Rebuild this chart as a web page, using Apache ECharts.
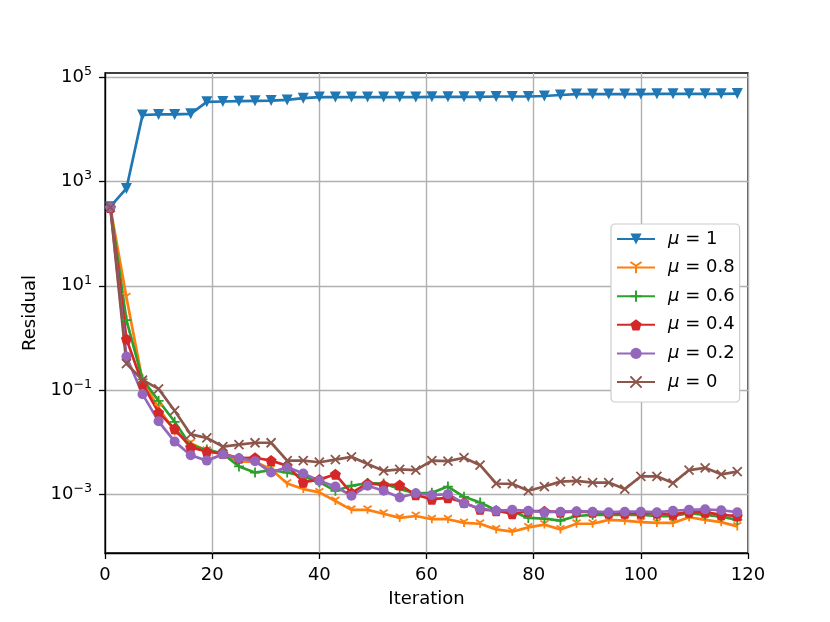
<!DOCTYPE html>
<html><head><meta charset="utf-8">
<script src="https://cdn.jsdelivr.net/npm/echarts@6/dist/echarts.min.js"></script>
<style>html,body{margin:0;padding:0;background:#fff}#c{width:830px;height:622px}</style>
</head><body><div id="c"></div>
<script>
const iterations = [1,4,7,10,13,16,19,22,25,28,31,34,37,40,43,46,49,52,55,58,61,64,67,70,73,76,79,82,85,88,91,94,97,100,103,106,109,112,115,118];
const seriesNames = ['μ = 1','μ = 0.8','μ = 0.6','μ = 0.4','μ = 0.2','μ = 0'];
const mu1 = [330,740,1.9e4,1.95e4,1.95e4,2.0e4,3.4e4,3.45e4,3.5e4,3.55e4,3.6e4,3.7e4,4.0e4,4.2e4,4.2e4,4.2e4,4.2e4,4.2e4,4.2e4,4.2e4,4.25e4,4.25e4,4.25e4,4.25e4,4.3e4,4.3e4,4.3e4,4.4e4,4.6e4,4.8e4,4.8e4,4.8e4,4.8e4,4.8e4,4.85e4,4.85e4,4.85e4,4.85e4,4.85e4,4.9e4];
const mu08 = [320,6.0,0.15,0.045,0.016,0.0095,0.0068,0.0058,0.0042,0.0042,0.003,0.0016,0.00125,0.00108,0.00074,0.0005,0.0005,0.00042,0.00035,0.00038,0.00033,0.00033,0.00028,0.00027,0.00021,0.00019,0.00023,0.00026,0.00021,0.00027,0.00027,0.00032,0.00031,0.00029,0.00028,0.00028,0.00036,0.00032,0.00029,0.00024];
const mu06 = [320,2.2,0.16,0.062,0.0245,0.0085,0.0072,0.006,0.0034,0.0026,0.0029,0.0026,0.0022,0.0017,0.00116,0.00145,0.00163,0.0016,0.00125,0.00104,0.00106,0.0014,0.00089,0.00069,0.00049,0.00047,0.00035,0.00034,0.00031,0.00038,0.0004,0.0004,0.0004,0.0004,0.00038,0.00038,0.00043,0.0004,0.00037,0.00032];
const mu04 = [320,0.95,0.13,0.037,0.018,0.0079,0.0066,0.006,0.0049,0.005,0.0044,0.0035,0.0017,0.0019,0.0024,0.00105,0.0016,0.0015,0.0015,0.00097,0.0008,0.00085,0.00069,0.00051,0.00048,0.00042,0.00047,0.00047,0.00045,0.00046,0.00045,0.00043,0.00043,0.00043,0.00043,0.00041,0.00045,0.00045,0.0004,0.00038];
const mu02 = [320,0.44,0.083,0.025,0.0102,0.0056,0.0044,0.0058,0.0049,0.0043,0.0026,0.0033,0.0025,0.0018,0.0014,0.00093,0.00145,0.00116,0.00086,0.00104,0.00096,0.001,0.00066,0.00053,0.00048,0.0005,0.00048,0.00045,0.00046,0.00047,0.00046,0.00045,0.00046,0.00046,0.00045,0.00048,0.0005,0.00051,0.00049,0.00045];
const mu0 = [320,0.32,0.155,0.105,0.04,0.014,0.012,0.0082,0.0089,0.0097,0.0097,0.0044,0.0044,0.0041,0.0046,0.0052,0.0038,0.0028,0.003,0.0029,0.0044,0.0043,0.005,0.0036,0.0016,0.00158,0.00116,0.0014,0.00174,0.0018,0.00167,0.00167,0.00125,0.0022,0.0022,0.00163,0.0029,0.0032,0.0024,0.0027];
const xTickValues = [0,20,40,60,80,100,120];
const yTickValues = [1e-3,1e-1,1e1,1e3,1e5];

const allValues = [mu1, mu08, mu06, mu04, mu02, mu0];
const colors = ['#1f77b4','#ff7f0e','#2ca02c','#d62728','#9467bd','#8c564b'];
const symbols = [
  'triangle',
  'path://M5,5L5,10M5,5L0.67,2.5M5,5L9.33,2.5',
  'path://M5,0L5,10M0,5L10,5',
  'path://M5,0L9.76,3.45L7.94,9.05L2.06,9.05L0.24,3.45Z',
  'circle',
  'path://M0,0L10,10M10,0L0,10'
];
const symbolSizes = [11, 8, 10, 11, 10, 9];
const symbolRot = [180, 0, 0, 0, 0, 0];
const stroked = [false, true, true, false, false, true];
const FONT = 'DejaVu Sans';

const series = allValues.map((vals, k) => ({
  name: seriesNames[k],
  type: 'line',
  data: iterations.map((it, i) => [it, vals[i]]),
  symbol: symbols[k],
  symbolSize: symbolSizes[k],
  symbolRotate: symbolRot[k],
  showAllSymbol: true,
  lineStyle: { color: colors[k], width: 2.7 },
  itemStyle: { color: stroked[k] ? 'rgba(0,0,0,0)' : colors[k], borderColor: colors[k], borderWidth: stroked[k] ? 1.8 : 0 },
  emphasis: { disabled: true },
  animation: false
}));

function supLabel(v) {
  const e = Math.round(Math.log10(v));
  return '{b|10}{s|' + (e < 0 ? '\u2212' + (-e) : e) + '}';
}

const chart = echarts.init(document.getElementById('c'), null, { renderer: 'canvas' });
chart.setOption({
  backgroundColor: '#ffffff',
  animation: false,
  color: colors,
  textStyle: { fontFamily: FONT },
  grid: { left: 105, right: 82, top: 73, bottom: 69, show: true, borderColor: '#000', borderWidth: 1.3, backgroundColor: 'transparent' },
  xAxis: {
    type: 'value', min: 0, max: 120, interval: 20,
    name: 'Iteration', nameLocation: 'middle', nameGap: 37,
    nameTextStyle: { fontFamily: FONT, fontSize: 18, color: '#000' },
    axisLine: { show: true, lineStyle: { color: '#000', width: 1.3 } },
    axisTick: { show: true, inside: false, length: 6, lineStyle: { color: '#000', width: 1.3 } },
    axisLabel: { fontFamily: FONT, fontSize: 18, color: '#000', margin: 13 },
    splitLine: { show: true, lineStyle: { color: '#b0b0b0', width: 1.4 } }
  },
  yAxis: {
    type: 'log', logBase: 10, min: Math.pow(10, -4.13), max: Math.pow(10, 5.085),
    name: 'Residual', nameLocation: 'middle', nameGap: 60, nameRotate: 90,
    nameTextStyle: { fontFamily: FONT, fontSize: 18, color: '#000' },
    axisLine: { show: true, lineStyle: { color: '#000', width: 1.3 } },
    axisTick: { show: true, inside: false, length: 6, lineStyle: { color: '#000', width: 1.3 }, customValues: yTickValues },
    axisLabel: {
      customValues: yTickValues,
      margin: 13, color: '#000',
      formatter: supLabel,
      rich: {
        b: { fontFamily: FONT, fontSize: 18, color: '#000', lineHeight: 24, verticalAlign: 'middle' },
        s: { fontFamily: FONT, fontSize: 12.6, color: '#000', lineHeight: 15, verticalAlign: 'top' }
      }
    },
    splitLine: { show: true, lineStyle: { color: '#b0b0b0', width: 1.4 } },
    minorTick: { show: false }, minorSplitLine: { show: false }
  },
  legend: {
    orient: 'vertical', left: 611, top: 224,
    padding: [5, 5, 10, 5],
    itemWidth: 38, itemHeight: 14, itemGap: 8.6,
    backgroundColor: '#fff', borderColor: '#cccccc', borderWidth: 1.2, borderRadius: 4,
    selectedMode: false,
    formatter: name => '{i|μ}{t|' + name.slice(1) + '}',
    textStyle: {
      fontFamily: FONT, fontSize: 18, color: '#000', lineHeight: 20, padding: [0, 0, 0, 8],
      rich: {
        i: { fontFamily: FONT, fontStyle: 'italic', fontSize: 18, color: '#000', lineHeight: 20 },
        t: { fontFamily: FONT, fontSize: 18, color: '#000', lineHeight: 20 }
      }
    },
    data: seriesNames
  },
  series: series
});
</script>
</body></html>
